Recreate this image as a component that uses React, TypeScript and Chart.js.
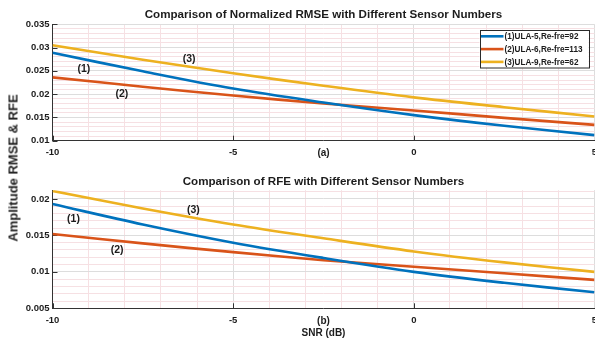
import React, { useEffect, useRef } from 'react';
import { Chart, registerables } from 'chart.js';

Chart.register(...registerables);

const FONT = "'Liberation Sans', Arial, Helvetica, sans-serif";

// SNR sample points (dB)
const snrDb = [-10, -7.5, -5, -2.5, 0, 2.5, 5];

// Panel (a): normalized amplitude RMSE
const rmseUla5 = [0.0289, 0.0249, 0.0212, 0.0182, 0.0155, 0.0132, 0.0112];
const rmseUla6 = [0.0236, 0.0216, 0.0197, 0.018, 0.0165, 0.0149, 0.0134];
const rmseUla9 = [0.0305, 0.0274, 0.0245, 0.0218, 0.0193, 0.0172, 0.0152];

// Panel (b): RFE
const rfeUla5 = [0.0193, 0.0165, 0.014, 0.0119, 0.01, 0.0085, 0.0072];
const rfeUla6 = [0.0152, 0.0139, 0.0127, 0.0116, 0.0107, 0.0098, 0.0089];
const rfeUla9 = [0.0211, 0.0187, 0.0165, 0.0146, 0.0128, 0.0113, 0.01];

const seriesNames = ['(1)ULA-5,Re-fre=92', '(2)ULA-6,Re-fre=113', '(3)ULA-9,Re-fre=62'];
const curveTags = ['(1)', '(2)', '(3)'];
const seriesColors = ['#0072BD', '#D95319', '#EDB120'];

// Axis ticks
const xMajorTicks = [-10, -5, 0, 5];
const xMinorStep = 1;
const rmseMajorTicks = [0.01, 0.015, 0.02, 0.025, 0.03, 0.035];
const rfeMajorTicks = [0.005, 0.01, 0.015, 0.02];
const yMinorStep = 0.001;

// Where the curve numbers sit, in data units [snr, value]
const rmseTagAt = [[-9.13, 0.0254], [-8.08, 0.02], [-6.22, 0.02748]];
const rfeTagAt = [[-9.42, 0.01722], [-8.21, 0.01292], [-6.1, 0.01849]];

const MAJOR_GRID = '#dddddd';
const MINOR_GRID = '#f6e0e3';
const AXIS_COLOR = '#333333';
const TEXT_COLOR = '#1c1c1c';

type PanelCfg = {
  title: string;
  titleY: number;
  series: number[][];
  yMin: number;
  yMax: number;
  yMajors: number[];
  tagAt: number[][];
  subTag: string;
  xTitle?: string;
  showLegend: boolean;
  canvasHeight: number;
  padTop: number;
  xAxisHeight: number;
};

const isOn = (v: number, list: number[]) => list.some((m) => Math.abs(m - v) < 1e-9);

function fmt(v: number) {
  return String(+v.toFixed(4));
}

function makeDecor(cfg: PanelCfg) {
  return {
    id: 'panelDecor',
    beforeDatasetsDraw(chart: any) {
      const { ctx, chartArea: ca, scales } = chart;
      ctx.save();
      ctx.strokeStyle = AXIS_COLOR;
      ctx.lineWidth = 1;
      // inward tick marks, MATLAB style
      for (const t of xMajorTicks) {
        const px = Math.round(scales.x.getPixelForValue(t)) + 0.5;
        ctx.beginPath();
        ctx.moveTo(px, ca.bottom);
        ctx.lineTo(px, ca.bottom - 5);
        ctx.stroke();
      }
      for (const t of cfg.yMajors) {
        const py = Math.round(scales.y.getPixelForValue(t)) + 0.5;
        ctx.beginPath();
        ctx.moveTo(ca.left, py);
        ctx.lineTo(ca.left + 5, py);
        ctx.stroke();
      }
      ctx.restore();
    },
    afterDatasetsDraw(chart: any) {
      const { ctx, chartArea: ca, scales } = chart;
      const cx = (ca.left + ca.right) / 2;
      ctx.save();
      ctx.fillStyle = TEXT_COLOR;
      ctx.textAlign = 'center';
      ctx.textBaseline = 'middle';

      ctx.font = `bold 11.6px ${FONT}`;
      ctx.fillText(cfg.title, cx, cfg.titleY);

      ctx.font = `bold 10.5px ${FONT}`;
      cfg.tagAt.forEach(([sx, sv], i) => {
        ctx.fillText(curveTags[i], scales.x.getPixelForValue(sx), scales.y.getPixelForValue(sv));
      });

      ctx.font = `bold 10px ${FONT}`;
      ctx.fillText(cfg.subTag, cx, ca.bottom + 13);
      if (cfg.xTitle) {
        ctx.font = `bold 10px ${FONT}`;
        ctx.fillText(cfg.xTitle, cx, ca.bottom + 25);
      }

      if (cfg.showLegend) {
        const w = 109;
        const rowH = 12.8;
        const h = 37.5;
        const left = ca.right - 6 - w;
        const top = ca.top + 6;
        ctx.fillStyle = '#ffffff';
        ctx.fillRect(left, top, w, h);
        ctx.strokeStyle = '#2a2a2a';
        ctx.lineWidth = 1;
        ctx.strokeRect(Math.round(left) + 0.5, Math.round(top) + 0.5, w, h);
        ctx.font = `bold 8.2px ${FONT}`;
        ctx.textAlign = 'left';
        seriesNames.forEach((name, i) => {
          const y = top + 6 + i * rowH;
          ctx.strokeStyle = seriesColors[i];
          ctx.lineWidth = 2.6;
          ctx.beginPath();
          ctx.moveTo(left + 1.5, y);
          ctx.lineTo(left + 24, y);
          ctx.stroke();
          ctx.fillStyle = TEXT_COLOR;
          ctx.fillText(name, left + 25, y + 0.5);
        });
      }
      ctx.restore();
    },
  };
}

function buildConfig(cfg: PanelCfg): any {
  const tickFont = { family: FONT, size: 9.5, weight: 'bold' as const };
  return {
    type: 'line',
    data: {
      datasets: cfg.series.map((vals, i) => ({
        label: seriesNames[i],
        data: snrDb.map((x, j) => ({ x, y: vals[j] })),
        borderColor: seriesColors[i],
        backgroundColor: seriesColors[i],
        borderWidth: 2.6,
        pointRadius: 0,
        fill: false,
        tension: 0.35,
      })),
    },
    options: {
      responsive: false,
      animation: false,
      devicePixelRatio: 1,
      events: [],
      layout: { padding: { top: cfg.padTop, right: 25.5, left: 0, bottom: 0 } },
      plugins: {
        legend: { display: false },
        tooltip: { enabled: false },
        title: { display: false },
      },
      scales: {
        x: {
          type: 'linear',
          min: -10,
          max: 5,
          afterBuildTicks: (s: any) => {
            const t = [];
            for (let v = -10; v <= 5; v += xMinorStep) t.push({ value: v });
            s.ticks = t;
          },
          afterFit: (s: any) => {
            s.height = cfg.xAxisHeight;
          },
          ticks: {
            autoSkip: false,
            maxRotation: 0,
            padding: 6,
            color: TEXT_COLOR,
            font: tickFont,
            callback: (v: number) => (isOn(v, xMajorTicks) ? String(v) : ''),
          },
          grid: {
            drawTicks: false,
            lineWidth: 1,
            color: (c: any) => (c.tick && isOn(c.tick.value, xMajorTicks) ? MAJOR_GRID : MINOR_GRID),
          },
          border: { display: true, color: AXIS_COLOR, width: 1 },
        },
        y: {
          type: 'linear',
          min: cfg.yMin,
          max: cfg.yMax,
          afterBuildTicks: (s: any) => {
            const t = [];
            const n = Math.floor((cfg.yMax - cfg.yMin) / yMinorStep + 1e-6);
            for (let i = 0; i <= n; i++) t.push({ value: +(cfg.yMin + i * yMinorStep).toFixed(6) });
            s.ticks = t;
          },
          afterFit: (s: any) => {
            s.width = 52.5;
          },
          ticks: {
            autoSkip: false,
            padding: 3,
            color: TEXT_COLOR,
            font: tickFont,
            callback: (v: number) => (isOn(v, cfg.yMajors) ? fmt(v) : ''),
          },
          grid: {
            drawTicks: false,
            lineWidth: 1,
            color: (c: any) => (c.tick && isOn(c.tick.value, cfg.yMajors) ? MAJOR_GRID : MINOR_GRID),
          },
          border: { display: true, color: AXIS_COLOR, width: 1 },
        },
      },
    },
    plugins: [makeDecor(cfg)],
  };
}

function Panel({ cfg, top }: { cfg: PanelCfg; top: number }) {
  const ref = useRef<HTMLCanvasElement>(null);
  useEffect(() => {
    const chart = new Chart(ref.current as HTMLCanvasElement, buildConfig(cfg));
    return () => chart.destroy();
  }, []);
  return (
    <canvas
      ref={ref}
      width={620}
      height={cfg.canvasHeight}
      style={{ position: 'absolute', left: 0, top, width: 620, height: cfg.canvasHeight }}
    />
  );
}

const rmsePanel: PanelCfg = {
  title: 'Comparison of Normalized RMSE with Different Sensor Numbers',
  titleY: 15,
  series: [rmseUla5, rmseUla6, rmseUla9],
  yMin: 0.01,
  yMax: 0.035,
  yMajors: rmseMajorTicks,
  tagAt: rmseTagAt,
  subTag: '(a)',
  showLegend: true,
  canvasHeight: 165,
  padTop: 24.3,
  xAxisHeight: 24.3,
};

const rfePanel: PanelCfg = {
  title: 'Comparison of RFE with Different Sensor Numbers',
  titleY: 17,
  series: [rfeUla5, rfeUla6, rfeUla9],
  yMin: 0.005,
  yMax: 0.0212,
  yMajors: rfeMajorTicks,
  tagAt: rfeTagAt,
  subTag: '(b)',
  xTitle: 'SNR (dB)',
  showLegend: false,
  canvasHeight: 176,
  padTop: 25.2,
  xAxisHeight: 32.7,
};

export default function App() {
  return (
    <div
      style={{
        position: 'fixed',
        left: 0,
        top: 0,
        width: 595,
        height: 341,
        overflow: 'hidden',
        background: '#ffffff',
      }}
    >
      <Panel cfg={rmsePanel} top={0} />
      <Panel cfg={rfePanel} top={165} />
      <div
        style={{
          position: 'absolute',
          left: 13,
          top: 168,
          transform: 'translate(-50%, -50%) rotate(-90deg)',
          font: `bold 13px ${FONT}`,
          color: TEXT_COLOR,
          whiteSpace: 'nowrap',
        }}
      >
        Amplitude RMSE &amp; RFE
      </div>
    </div>
  );
}
